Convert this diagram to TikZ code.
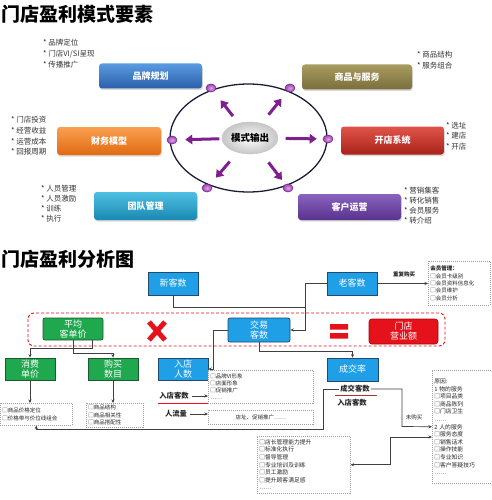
\documentclass[tikz,border=0pt]{standalone}
\usepackage{fontspec}
\setmainfont{Noto Sans CJK SC}
\usetikzlibrary{arrows.meta,shapes.geometric,shadows}
\definecolor{c1a}{HTML}{5A9BE0}\definecolor{c1b}{HTML}{2A5FA8}
\definecolor{c2a}{HTML}{A89C60}\definecolor{c2b}{HTML}{7A6E3C}
\definecolor{c3a}{HTML}{E0554A}\definecolor{c3b}{HTML}{A82219}
\definecolor{c4a}{HTML}{F9A050}\definecolor{c4b}{HTML}{E06A12}
\definecolor{c5a}{HTML}{4EC0E2}\definecolor{c5b}{HTML}{1A88B2}
\definecolor{c6a}{HTML}{8A63C0}\definecolor{c6b}{HTML}{58328C}
\definecolor{pdot}{HTML}{6E2A80}\definecolor{pdotin}{HTML}{E0A0EA}\definecolor{pdotout}{HTML}{9A45AE}
\definecolor{parr}{HTML}{7E1F8E}
\definecolor{ellc}{HTML}{1B1B3A}
\definecolor{bblue}{HTML}{1E9FE6}\definecolor{bbord}{HTML}{23496E}
\definecolor{ggreen}{HTML}{20A84E}\definecolor{gbord}{HTML}{1A5A2E}
\definecolor{rred}{HTML}{E5111B}\definecolor{rbord}{HTML}{A00A10}
\definecolor{connc}{HTML}{404040}
\begin{document}
\begin{tikzpicture}[x=1pt,y=-1pt,
  tbox/.style={rounded corners=3pt, text=white, font=\fontsize{9}{10}\selectfont\bfseries,
    minimum width=103pt, minimum height=25pt, inner sep=0pt,
    drop shadow={opacity=0.3,shadow xshift=0.8pt,shadow yshift=-1.5pt}},
  bul/.style={anchor=north west, align=left, inner sep=0pt, font=\fontsize{7.5}{10.8}\selectfont, text=black!80},
  dotn/.style={ellipse, minimum width=10pt, minimum height=8pt, inner sep=0pt, draw=pdot,
    line width=0.6pt, inner color=pdotin, outer color=pdotout},
  parrow/.style={draw=parr, line width=3pt, -{Triangle[length=7pt,width=9.5pt]}},
  bbox/.style={draw=bbord, fill=bblue, line width=0.7pt, text=white, font=\fontsize{9}{10}\selectfont,
    align=center, inner sep=0pt},
  gbox/.style={draw=gbord, fill=ggreen, line width=0.7pt, text=white, font=\fontsize{9}{10.5}\selectfont,
    align=center, inner sep=0pt, minimum width=50pt, minimum height=22pt},
  dbox/.style={draw=gray!75, dash pattern=on 1pt off 1pt, line width=0.5pt, fill=white, anchor=north west,
    align=left, inner sep=2pt, font=\fontsize{5.5}{7.5}\selectfont, text=black!85},
  lab/.style={inner sep=1pt, font=\fontsize{7.3}{8}\selectfont\bfseries, text=black!85},
  small/.style={inner sep=1pt, font=\fontsize{5.5}{6}\selectfont, text=black!85},
  cn/.style={draw=connc, line width=0.7pt},
  tip/.style={-{Stealth[length=3.5pt,width=3pt]}}
]
\useasboundingbox (0,0) rectangle (491,500);
\fill[white] (0,0) rectangle (491,500);

% ---------- top part ----------
\node[anchor=west, inner sep=0pt, font=\fontsize{19}{19}\selectfont\bfseries] (t1) at (1,14) {门店盈利模式要素};

\draw[ellc, line width=1.3pt] (248.5,138) ellipse [x radius=78.5pt, y radius=54pt];

\node[tbox, top color=c1a, bottom color=c1b] (pp) at (150.5,76) {品牌规划};
\node[tbox, top color=c2a, bottom color=c2b, minimum width=110pt] (sp) at (357,77) {商品与服务};
\node[tbox, top color=c3a, bottom color=c3b, minimum height=28pt] (kd) at (392.5,140.5) {开店系统};
\node[tbox, top color=c4a, bottom color=c4b, minimum width=104pt, minimum height=28pt] (cw) at (109,141) {财务模型};
\node[tbox, top color=c5a, bottom color=c5b, minimum height=28pt] (td) at (145.5,206) {团队管理};
\node[tbox, top color=c6a, bottom color=c6b, minimum height=26pt] (ky) at (349.5,207) {客户运营};

\node[bul] (l1) at (43,39) {* 品牌定位\\* 门店VI/SI呈现\\* 传播推广};
\node[bul] (l2) at (417,51) {* 商品结构\\* 服务组合};
\node[bul, font=\fontsize{7.5}{10.5}\selectfont] (l3) at (446,122) {* 选址\\* 建店\\* 开店};
\node[bul] (l4) at (11,116) {* 门店投资\\* 经营收益\\* 运营成本\\* 回报周期};
\node[bul, font=\fontsize{7.5}{10}\selectfont] (l5) at (41,185) {* 人员管理\\* 人员激励\\* 训练\\* 执行};
\node[bul, font=\fontsize{7.5}{10}\selectfont] (l6) at (404,187) {* 营销集客\\* 转化销售\\* 会员服务\\* 转介绍};

\node[ellipse, minimum width=56pt, minimum height=32pt, inner sep=0pt, inner color=white, outer color=gray!45,
  draw=gray!45, font=\fontsize{9.5}{10}\selectfont\bfseries] (mc) at (250,138) {模式输出};

\node[dotn] (dtl) at (211,88) {};
\node[dotn] (dtr) at (290,88) {};
\node[dotn] (dl) at (172,140) {};
\node[dotn] (dr) at (328,139) {};
\node[dotn] (dbl) at (207,188) {};
\node[dotn] (dbr) at (288,188) {};

\draw[parrow, shorten <=2.5pt, shorten >=8pt] (mc) -- (dl);
\draw[parrow, shorten <=7.5pt, shorten >=6pt] (mc) -- (dr);
\draw[parrow, shorten <=9pt, shorten >=11pt] (mc) -- (dtl);
\draw[parrow, shorten <=11pt, shorten >=9pt] (mc) -- (dtr);
\draw[parrow, shorten <=12pt, shorten >=9pt] (mc) -- (dbl);
\draw[parrow, shorten <=12pt, shorten >=5.5pt] (mc) -- (dbr);

% ---------- bottom part ----------
\node[anchor=west, inner sep=0pt, font=\fontsize{19}{19}\selectfont\bfseries] (t2) at (1,259) {门店盈利分析图};

\draw[rred, line width=0.9pt, rounded corners=6pt, dash pattern=on 3pt off 2pt] (28,313) rectangle (445,346);

\node[bbox, minimum width=50pt, minimum height=23pt] (nc) at (173,283.5) {新客数};
\node[bbox, minimum width=50pt, minimum height=23pt] (oc) at (352,283.5) {老客数};
\node[gbox, minimum width=60pt, minimum height=22pt, rounded corners=2pt] (avg) at (73,329) {平均\\客单价};
\node[bbox, minimum width=62pt, minimum height=24pt, rounded corners=2pt] (tc) at (259,330) {交易\\客数};
\node[draw=rbord, fill=rred, line width=0.7pt, rounded corners=3pt, text=white, align=center, inner sep=0pt,
  font=\fontsize{9}{10}\selectfont, minimum width=69pt, minimum height=25pt] (rev) at (403.5,331.5) {门店\\营业额};

\draw[rred, line width=5pt] (149,322) -- (165,340) (149,340) -- (165,322);
\fill[rred] (330,324) rectangle (348,329.5) (330,333) rectangle (348,338.5);

\node[gbox] (xf) at (30,369) {消费\\单价};
\node[gbox] (gm) at (113,369) {购买\\数目};
\node[bbox, minimum width=50pt, minimum height=22pt] (rd) at (183,369) {入店\\人数};
\node[bbox, minimum width=51pt, minimum height=23pt] (cj) at (352.5,369.5) {成交率};

\node[dbox, text width=68pt, minimum height=22pt] (d1) at (0,403) {□商品价格定位\\□价格带与价位线组合};
\node[dbox, text width=53pt, minimum height=23pt] (d2) at (86,403) {□商品结构\\□商品相关性\\□商品搭配性};
\node[dbox, text width=58pt, minimum height=44pt, font=\fontsize{5.5}{7.3}\selectfont] (mb) at (428,261)
  {\textbf{会员管理：}\\□会员卡级别\\□会员资料信息化\\□会员维护\\□会员分析};
\node[dbox, text width=101pt, minimum height=33pt, font=\fontsize{5.5}{7.3}\selectfont] (d3) at (208,370)
  {□品牌VI形象\\□店面形象\\□促销推广\\……};
\node[dbox, text width=101pt, minimum height=14pt, align=center] (d4) at (208,410) {店址、促销推广……};
\node[dbox, text width=58pt, minimum height=113pt, font=\fontsize{5.8}{7.6}\selectfont] (rs) at (432,370)
  {原因:\\1 物的服务\\□项目品类\\□商品陈列\\□门店卫生\\……\\2 人的服务\\□服务态度\\□销售话术\\□操作技能\\□专业知识\\□客户答疑技巧\\……};
\node[dbox, text width=89pt, minimum height=57pt, font=\fontsize{5.8}{7.6}\selectfont] (bb) at (257,436)
  {□店长管理能力提升\\□标准化执行\\□督导管理\\□专业培训及训练\\□员工激励\\□提升顾客满足感\\……};

\node[lab] (rk) at (174,396) {入店客数};
\node[lab] (rl) at (176,414) {人流量};
\node[lab] (cjk) at (355,389) {成交客数};
\node[lab] (rk2) at (352,403) {入店客数};
\node[small, font=\fontsize{5.5}{6}\selectfont\bfseries] (cf) at (404,274) {重复购买};
\node[small] (wg) at (414,417) {未购买};

\draw[rred, line width=1pt] (158,403) -- (208,403);
\draw[draw={rgb,255:red,170;green,50;blue,50}, line width=1pt] (335,395.5) -- (377,395.5);

% connectors
\draw[cn, tip] (nc.south) |- (305,307) |- (tc.east);
\draw[cn] (oc.west) -| (305,307);
\draw[cn, tip] (oc.east) -- (oc.east -| mb.west);
\draw[cn, tip] (tc.west) -| (213,369) -- (rd.east);
\draw[cn, tip] (tc.south) |- (352.5,351) -- (cj.north);
\draw[cn, tip] (avg.south -| 92,0) |- (30,348) -- (xf.north);
\draw[cn, tip] (avg.south -| 73,0) |- (113,353) -- (gm.north);
\draw[cn, tip] (xf.south) -- (xf.south |- d1.north);
\draw[cn, tip] (gm.south) -- (gm.south |- d2.north);
\draw[cn, tip, shorten <=2pt] (rk.east) -- (rk.east -| d3.west);
\draw[cn, tip, shorten <=2pt] (rl.east) -- (rl.east -| d4.west);
\draw[cn, tip] (cjk.west) -| (323,429) -| (d1.south);
\draw[cn, tip] (cjk.east) -| (402,426.5) -- (rs.west);
\draw[cn, {Stealth[length=3.5pt,width=3pt]}-{Stealth[length=3.5pt,width=3pt]}] (bb.east) -| (390,437) -- (rs.west |- 0,437);
\end{tikzpicture}
\end{document}
